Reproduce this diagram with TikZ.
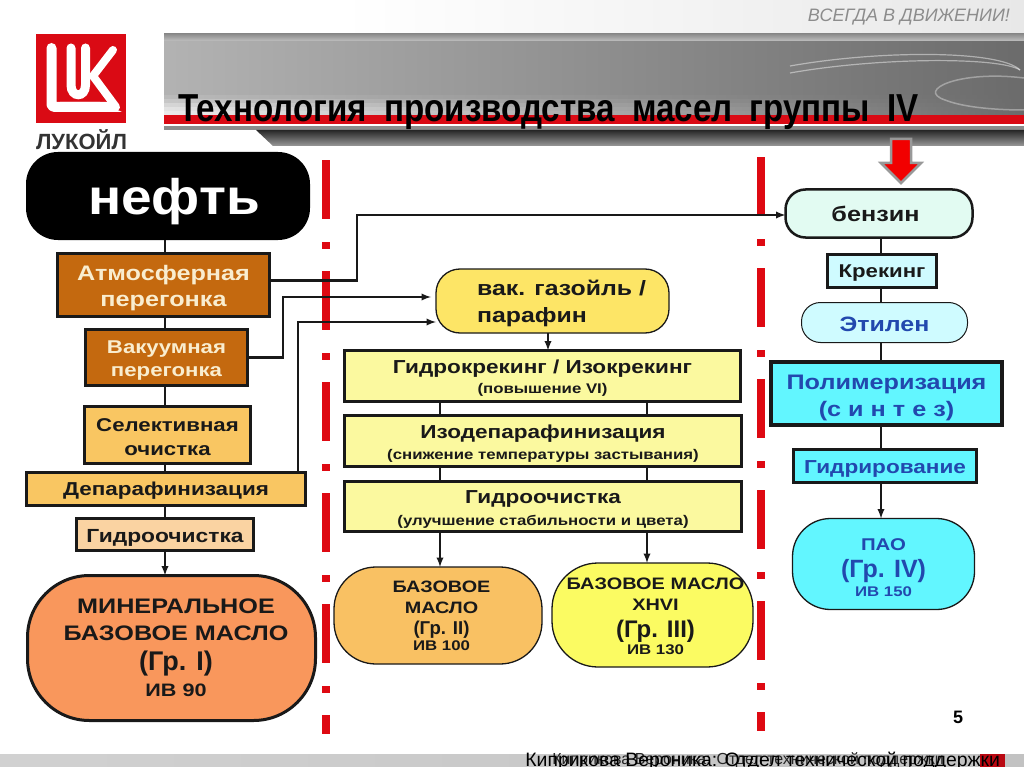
\documentclass[tikz,border=0pt]{standalone}
\usepackage{fontspec}
\setmainfont{Liberation Sans}
\newfontfamily\widefont[FakeStretch=1.2]{Liberation Sans}
\newfontfamily\midfont[FakeStretch=1.1]{Liberation Sans}
\newfontfamily\slimfont[FakeStretch=0.85]{Liberation Sans}
\usetikzlibrary{positioning,arrows.meta,calc}
\definecolor{brownbox}{HTML}{C4690F}
\definecolor{sandbox}{HTML}{F9C662}
\definecolor{peachbox}{HTML}{FAD3A2}
\definecolor{mineral}{HTML}{F9975C}
\definecolor{paleyellow}{HTML}{FBF99F}
\definecolor{gasoil}{HTML}{FDE566}
\definecolor{baseII}{HTML}{F9C163}
\definecolor{baseIII}{HTML}{FBFB62}
\definecolor{mintbox}{HTML}{E2FBF2}
\definecolor{icebox}{HTML}{CFFBFF}
\definecolor{aquabox}{HTML}{62F6FF}
\definecolor{inkblue}{HTML}{2248AE}
\definecolor{cream}{HTML}{F9EDCF}
\definecolor{logored}{HTML}{DA0A14}
\newcommand{\fz}[1]{\fontsize{#1}{#1}\selectfont}
\newcommand{\pl}{\normalfont\bfseries}
\newcommand{\dn}[1]{\rule{0pt}{\dimexpr\fontcharht\font`X+#1pt*2\relax}}

\begin{document}
\begin{tikzpicture}[
  x=1pt,y=-1pt,
  >=latex,
  every node/.style={font=\widefont\bfseries,text=black!90,inner sep=0pt,outer sep=0pt},
  wh/.style 2 args={minimum width=#1,minimum height=#2},
  box/.style={draw=black!90,line width=3pt,rectangle,align=center},
  pill/.style={draw=black!90,line width=1.3pt,rectangle,align=center,rounded corners=#1},
  link/.style={draw=black!90,line width=2.2pt},
  cut/.style={fill=logored!90!red,draw=none}
]
\useasboundingbox (0,0) rectangle (1024,767);

% шапка
\shade[left color=white,right color=black!9] (340,0) rectangle (1024,34);
\shade[top color=black!45,bottom color=black!22] (164,34) rectangle (1024,42);
\shade[left color=black!30,right color=black!58] (164,42) rectangle (1024,96);
\foreach \y/\l in {96/27,100/22,104/16,108/11,112/8}{
  \shade[left color=black!\l,right color=black!58] (164,\y) rectangle (1024,\y+4);
}
\foreach \y in {0,7}{
  \draw[white,opacity=0.45,line width=1.2pt]
    (790,66+\y) .. controls (880,\y+50) and (1000,\y+50) .. (1020,70);
}
\draw[white,opacity=0.35,line width=1.5pt]
    (1024,78) .. controls (960,70) and (915,90) .. (945,100) .. controls (965,108) and (1000,110) .. (1024,110);
\fill[logored] (164,115) rectangle (1024,124);
\fill[white] (164,124) rectangle (1024,126);
\fill[black!45] (164,126) rectangle (1024,130);
\shade[top color=black!85,bottom color=black!40]
  (256,130) -- (273,146) -- (1024,146) -- (1024,130) -- cycle;
\node[font=\normalfont\itshape\fz{18},text=black!45,anchor=east] (slogan) at (1010,17) {ВСЕГДА В ДВИЖЕНИИ!};
\node[font=\slimfont\bfseries\fz{39},anchor=base west,text=black] (title) at (178,122) {Технология\hspace{8pt} производства\hspace{8pt} масел\hspace{8pt} группы\hspace{8pt} IV};

% логотип
\fill[logored] (36,34) rectangle (126,123);
\draw[white,line width=10pt,line cap=round,line join=round]
  (51.5,48) -- (51.5,102) .. controls (51.5,106) .. (55,107) -- (112,107);
\fill[white] (100,102) -- (122,112) -- (60,112) -- (60,102) -- cycle;
\draw[white,line width=9pt,line cap=round]
  (71,48) -- (71,85) .. controls (71,98) and (85.5,98) .. (85.5,85) -- (85.5,48);
\draw[white,line width=8pt,line cap=round,line join=round]
  (113,50) -- (93,76) -- (116,107);
\node[font=\pl\fz{22},text=black!80] (brand) at (81.5,139.5) {ЛУКОЙЛ};

% красные штрихи
\foreach \x/\t in {325.5/160,761/157}{
  \foreach \k in {0,1,2,3,4}{
    \fill[cut] (\x-4,\t+111*\k) rectangle (\x+4,\t+59+111*\k);
    \fill[cut] (\x-4,\t+82+111*\k) rectangle (\x+4,\t+89+111*\k);
  }
  \fill[cut] (\x-4,\t+555) rectangle (\x+4,\t+574);
}

% левая колонка
\node[draw=none,fill=black,rectangle,rounded corners=32pt,wh={284}{88},font=\midfont\bfseries\fz{50},text=white] (neft) at (168,196) {\hspace*{12pt}\dn{6}нефть};
\node[box,fill=brownbox,wh={212}{63},font=\widefont\bfseries\fz{21},text=cream] (atm) at (163.5,285) {\dn{3.5}Атмосферная\\[5pt]перегонка};
\node[box,fill=brownbox,wh={162}{56},font=\widefont\bfseries\fz{18.5},text=cream] (vak) at (166.5,357.5) {\dn{3}Вакуумная\\[4.5pt]перегонка};
\node[box,fill=sandbox,wh={166}{57},font=\widefont\bfseries\fz{18.5}] (sel) at (167.5,435) {\dn{2}Селективная\\[5.5pt]очистка};
\node[box,fill=sandbox,wh={279}{33},font=\widefont\bfseries\fz{18.7}] (dep) at (166,489) {\dn{2}Депарафинизация};
\node[box,fill=peachbox,wh={177}{32},font=\widefont\bfseries\fz{19}] (gid) at (165,534.5) {\dn{3}Гидроочистка};
\node[pill=62pt,line width=3pt,fill=mineral,wh={288}{145}] (mineralnoe) at (171.5,648)
  {\hspace*{9pt}\fz{21}МИНЕРАЛЬНОЕ\\[11pt]\hspace*{9pt}\fz{21}БАЗОВОЕ МАСЛО\\[9pt]\hspace*{9pt}\pl\fz{27}(Гр. I)\\[7pt]\hspace*{9pt}\widefont\fz{18}ИВ 90};

% средняя колонка
\node[pill=24pt,fill=gasoil,wh={233}{64},align=left,font=\widefont\bfseries\fz{20.7}] (gasoilbox) at (552.5,301)
  {\hspace*{18pt}\dn{3}вак. газойль /\\[6pt]\hspace*{18pt}парафин};
\node[box,fill=paleyellow,wh={396}{51}] (hk) at (542.5,376) {\fz{18.8}\dn{2.5}Гидрокрекинг / Изокрекинг\\[5pt]\fz{14}(повышение VI)};
\node[box,fill=paleyellow,wh={397}{51}] (izo) at (543,441) {\fz{18.8}\dn{3}Изодепарафинизация\\[6pt]\fz{14}(снижение температуры застывания)};
\node[box,fill=paleyellow,wh={397}{50}] (gio) at (543,506.5) {\fz{18.8}\dn{3}Гидроочистка\\[6pt]\fz{14}(улучшение стабильности и цвета)};
\node[pill=42pt,fill=baseII,wh={208}{97}] (bmII) at (438,615.5)
  {\hspace*{7pt}\fz{16.5}БАЗОВОЕ\\[9pt]\hspace*{7pt}\fz{16.5}МАСЛО\\[7pt]\hspace*{7pt}\pl\fz{18.6}(Гр. II)\\[1pt]\hspace*{7pt}\widefont\fz{14}ИВ 100};
\node[pill=46pt,fill=baseIII,wh={201}{104}] (bmIII) at (652.5,615)
  {\hspace*{6pt}\fz{16.6}\dn{1}БАЗОВОЕ МАСЛО\\[9pt]\hspace*{6pt}\fz{16.6}XHVI\\[9pt]\hspace*{6pt}\pl\fz{24}(Гр. III)\\[1pt]\hspace*{6pt}\widefont\fz{14}ИВ 130};

% правая колонка
\node[pill=20pt,line width=2.5pt,fill=mintbox,wh={187}{48},font=\widefont\bfseries\fz{21}] (benz) at (879,213.5) {бензин\hspace*{7pt}};
\node[box,fill=icebox,wh={109}{33},font=\widefont\bfseries\fz{18.5}] (krek) at (882,271) {\dn{2}Крекинг};
\node[pill=19pt,line width=1pt,fill=icebox,wh={166}{40},font=\widefont\bfseries\fz{20.8},text=inkblue] (etil) at (884.5,322.5) {\dn{2}Этилен};
\node[box,line width=4pt,fill=aquabox,wh={231}{63},font=\widefont\bfseries\fz{21},text=inkblue] (pol) at (886.5,393.5) {\dn{4}Полимеризация\\[6pt](с и н т е з)};
\node[box,fill=aquabox,wh={183}{33},font=\widefont\bfseries\fz{18.8},text=inkblue] (gidr) at (885,466) {\dn{3}Гидрирование};
\node[pill=38pt,fill=aquabox,wh={182}{91},text=inkblue] (pao) at (883.5,564)
  {\fz{17}\dn{3.5}ПАО\\[8pt]\pl\fz{25}(Гр. IV)\\[3pt]\widefont\fz{14}ИВ 150};

% связи
\coordinate (spineL) at (165,0);
\coordinate (spineR) at (881,0);
\coordinate (dropA) at (440,0);
\coordinate (dropB) at (647,0);
\coordinate (dropC) at (548,0);
\coordinate (kneeA) at (357,215);
\coordinate (kneeB) at (283,297);
\coordinate (kneeC) at (298,322);
\foreach \a/\b in {neft/atm,atm/vak,vak/sel,sel/dep,dep/gid}{
  \draw[link] (\a.south -| spineL) -- (\b.north -| spineL);
}
\draw[link,->] (gid.south -| spineL) -- (mineralnoe.north -| spineL);
\foreach \a/\b in {benz/krek,krek/etil,etil/pol,pol/gidr}{
  \draw[link] (\a.south -| spineR) -- (\b.north -| spineR);
}
\draw[link,->] (gidr.south -| spineR) -- (pao.north -| spineR);
\draw[link,->] (gasoilbox.south -| dropC) -- (hk.north -| dropC);
\foreach \d in {dropA,dropB}{
  \draw[link] (hk.south -| \d) -- (izo.north -| \d);
  \draw[link] (izo.south -| \d) -- (gio.north -| \d);
}
\draw[link,->] (gio.south -| dropA) -- (bmII.north -| dropA);
\draw[link,->] (gio.south -| dropB) -- (bmIII.north -| dropB);
\draw[link,->] ([yshift=4.5pt]atm.east) -| (kneeA) -- (kneeA -| benz.west);
\draw[link,->] (vak.east) -| (kneeB) -- ([xshift=-5pt]kneeB -| gasoilbox.west);
\draw[link,->] (kneeC |- dep.north) -- (kneeC) -- (kneeC -| gasoilbox.west);

% красная стрелка
\draw[draw=black!40,fill=red!95!black,line width=2.5pt,line join=miter]
  (891,139) -- (911,139) -- (911,163) -- (921,163) -- (901,183) -- (881,163) -- (891,163) -- cycle;

% низ слайда
\shade[left color=black!18,right color=black!24] (0,754) rectangle (1024,767);
\fill[logored!85!black] (980,754) rectangle (1005,767);
\node[font=\bfseries\fz{18},text=black,anchor=base] (pagenum) at (958,723) {5};
\node[font=\fz{16},text=black!85,anchor=base] (footB) at (748,764) {Киприкова Вероника: Отдел технической поддержки};
\node[font=\fz{19.4},text=black,anchor=base east] (footA) at (1000,766) {Киприкова Вероника: Отдел технической поддержки};
\end{tikzpicture}
\end{document}
